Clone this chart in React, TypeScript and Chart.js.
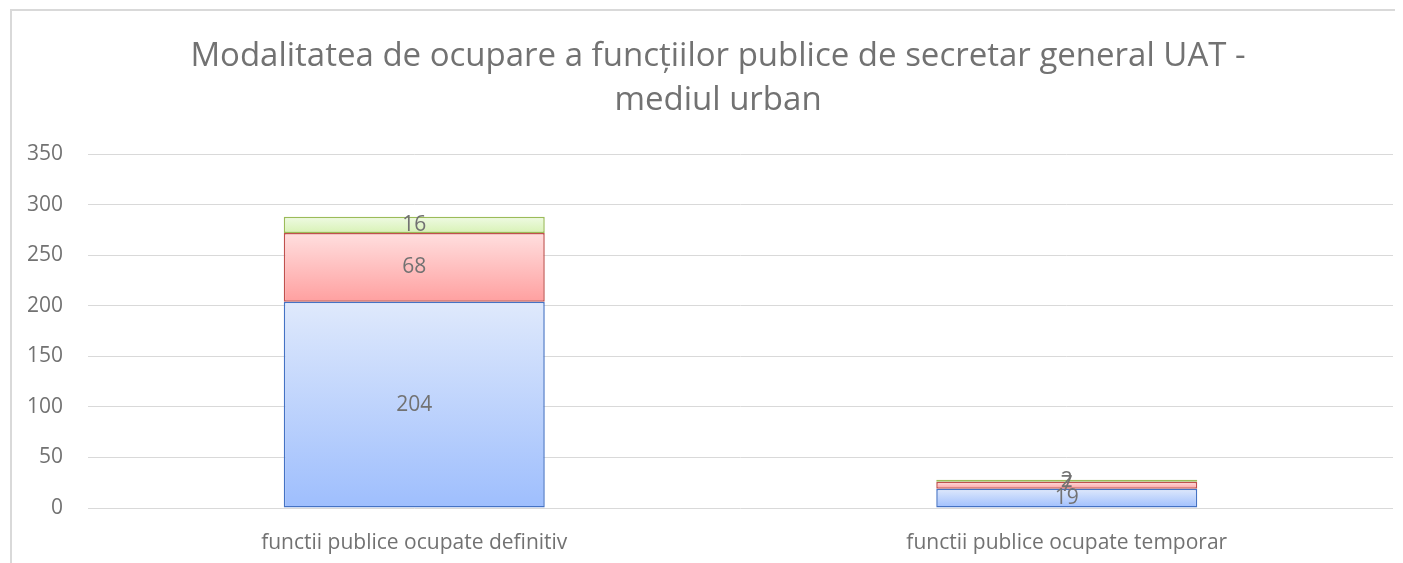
import React, { useEffect, useRef } from "react";
import { Chart, registerables } from "chart.js";

Chart.register(...registerables);

const categories = ["functii publice ocupate definitiv", "functii publice ocupate temporar"];
const seriesNames = ["Seria 1", "Seria 2", "Seria 3"];
const blueValues = [204, 19];
const redValues = [68, 7];
const greenValues = [16, 2];
const yMin = 0;
const yMax = 350;
const yStep = 50;
const titleLines = [
  "Modalitatea de ocupare a funcțiilor publice de secretar general UAT -",
  "mediul urban",
];

const FONT = '"Open Sans", sans-serif';
const TEXT = "#727272";
const FRAME = "#d9d9d9";

function gradientFill(top: string, bottom: string, fallback: string) {
  return (c: any) => {
    const chart = c.chart;
    const y = chart.scales && chart.scales.y;
    if (c.type !== "data" || !y) return fallback;
    const ds = chart.data.datasets;
    let start = 0;
    for (let k = 0; k < c.datasetIndex; k++) start += Number(ds[k].data[c.dataIndex]) || 0;
    const end = start + (Number(ds[c.datasetIndex].data[c.dataIndex]) || 0);
    const y0 = y.getPixelForValue(end);
    const y1 = y.getPixelForValue(start);
    if (!isFinite(y0) || !isFinite(y1) || y0 === y1) return fallback;
    const g = chart.ctx.createLinearGradient(0, y0, 0, y1);
    g.addColorStop(0, top);
    g.addColorStop(1, bottom);
    return g;
  };
}

const framePlugin = {
  id: "frame",
  beforeDraw(chart: any) {
    const ctx = chart.ctx;
    ctx.save();
    ctx.fillStyle = "#ffffff";
    ctx.fillRect(0, 0, chart.width, chart.height);
    ctx.fillStyle = FRAME;
    ctx.fillRect(2, 1, 2, chart.height);
    ctx.fillRect(2, 1, chart.width, 2);
    ctx.restore();
  },
};

const valueLabels = {
  id: "valueLabels",
  afterDatasetsDraw(chart: any) {
    const ctx = chart.ctx;
    ctx.save();
    ctx.font = `21px ${FONT}`;
    ctx.fillStyle = TEXT;
    ctx.textAlign = "center";
    ctx.textBaseline = "middle";
    chart.data.datasets.forEach((ds: any, di: number) => {
      const meta = chart.getDatasetMeta(di);
      meta.data.forEach((el: any, i: number) => {
        const p = el.getProps(["x", "y", "base"], true);
        ctx.fillText(String(ds.data[i]), p.x, (p.y + p.base) / 2);
      });
    });
    ctx.restore();
  },
};

const titlePlugin = {
  id: "titleLines",
  afterDraw(chart: any) {
    const ctx = chart.ctx;
    ctx.save();
    ctx.font = `33px ${FONT}`;
    ctx.fillStyle = TEXT;
    ctx.textAlign = "center";
    ctx.textBaseline = "alphabetic";
    const cx = 710;
    ctx.fillText(titleLines[0], cx, 58);
    ctx.fillText(titleLines[1], cx, 102);
    ctx.restore();
  },
};

export default function App() {
  const canvasRef = useRef<HTMLCanvasElement | null>(null);

  useEffect(() => {
    if (!canvasRef.current) return;
    const chart = new Chart(canvasRef.current, {
      type: "bar",
      data: {
        labels: categories,
        datasets: [
          {
            label: seriesNames[0],
            data: blueValues,
            backgroundColor: gradientFill("#dfe9fc", "#9ebefd", "#c0d4fc"),
            borderColor: "#4472c4",
          },
          {
            label: seriesNames[1],
            data: redValues,
            backgroundColor: gradientFill("#ffdfdf", "#ffa0a0", "#ffc0c0"),
            borderColor: "#c0504d",
          },
          {
            label: seriesNames[2],
            data: greenValues,
            backgroundColor: gradientFill("#effae3", "#d8f2b6", "#e4f6cc"),
            borderColor: "#9bbb59",
          },
        ],
      },
      options: {
        responsive: false,
        animation: false,
        datasets: {
          bar: {
            borderWidth: 1.5,
            borderSkipped: false,
            barPercentage: 0.4,
            categoryPercentage: 1,
          },
        },
        layout: { padding: { top: 146, left: 0, right: 10, bottom: 0 } },
        plugins: {
          legend: { display: false },
          title: { display: false },
          tooltip: { enabled: false },
        },
        scales: {
          x: {
            stacked: true,
            grid: { display: false },
            border: { display: false },
            ticks: {
              color: TEXT,
              font: { family: FONT, size: 21 },
              padding: 14,
              maxRotation: 0,
              autoSkip: false,
            },
            afterFit: (s: any) => {
              s.height = 55;
            },
          },
          y: {
            stacked: true,
            min: yMin,
            max: yMax,
            grid: { color: FRAME, lineWidth: 1, drawTicks: false },
            border: { display: false },
            ticks: {
              stepSize: yStep,
              color: TEXT,
              font: { family: FONT, size: 21 },
              padding: 25,
            },
            afterFit: (s: any) => {
              s.width = 80;
            },
          },
        },
      },
      plugins: [framePlugin, valueLabels, titlePlugin],
    });
    return () => chart.destroy();
  }, []);

  return (
    <div style={{ width: 1395, height: 555, overflow: "hidden" }}>
      <canvas ref={canvasRef} width={1395} height={555} style={{ display: "block" }} />
    </div>
  );
}
